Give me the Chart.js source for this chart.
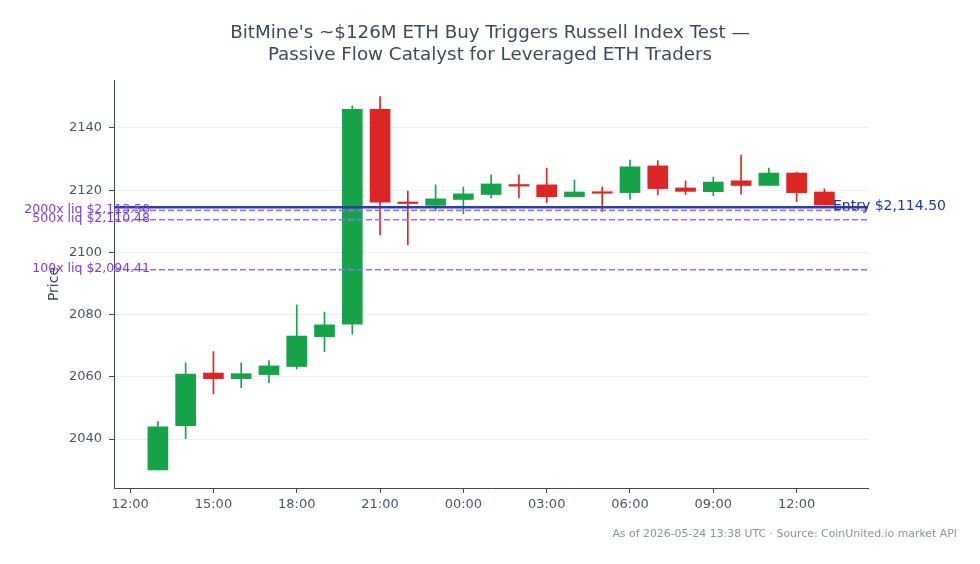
<!DOCTYPE html>
<html><head><meta charset="utf-8">
<script src="https://cdn.jsdelivr.net/npm/chart.js@4.4.1/dist/chart.umd.min.js"></script>
<style>html,body{margin:0;padding:0;background:#fff}#wrap{width:980px;height:564px;position:relative}</style>
</head><body><div id="wrap"><canvas id="c" width="980" height="564"></canvas></div>
<script>
// Hours since 12:00 on day 1 (candle centres)
const HOURS = [1,2,3,4,5,6,7,8,9,10,11,12,13,14,15,16,17,18,19,20,21,22,23,24,25];
const OPEN  = [2030.1,2044.3,2061.2,2059.4,2060.7,2063.3,2072.9,2076.9,2146.0,2116.1,2115.1,2117.0,2118.6,2121.8,2121.7,2117.9,2119.3,2119.2,2127.8,2120.7,2119.5,2123.0,2121.5,2125.5,2119.4];
const HIGH  = [2045.6,2064.5,2068.1,2064.5,2065.2,2083.1,2080.8,2147.1,2150.1,2119.7,2121.7,2121.0,2124.9,2124.9,2127.1,2123.3,2121.0,2129.7,2129.5,2123.0,2124.2,2131.3,2127.1,2125.8,2120.4];
const LOW   = [2030.1,2040.1,2054.5,2056.5,2058.1,2062.5,2068.1,2073.7,2105.6,2102.4,2113.4,2112.4,2117.5,2117.5,2116.0,2117.9,2113.1,2117.0,2118.5,2118.6,2118.2,2118.7,2121.5,2116.3,2115.2];
const CLOSE = [2043.9,2060.9,2059.4,2061.0,2063.5,2073.1,2076.7,2146.0,2116.1,2115.7,2117.2,2118.8,2122.0,2121.3,2117.9,2119.4,2119.0,2127.5,2120.5,2119.6,2122.6,2121.5,2125.5,2119.2,2115.2];

const ENTRY = 2114.50;
const LIQ_LEVELS = [2113.50, 2110.48, 2094.41];
const LIQ_LABELS = ['2000x liq $2,113.50', '500x liq $2,110.48', '100x liq $2,094.41'];
const ENTRY_LABEL = 'Entry $2,114.50';

const X_TICKS = [0,3,6,9,12,15,18,21,24];
const X_TICK_LABELS = ['12:00','15:00','18:00','21:00','00:00','03:00','06:00','09:00','12:00'];
const Y_TICKS = [2040,2060,2080,2100,2120,2140];

const X_MIN = -0.58, X_MAX = 26.57;
const Y_MIN = 2024.25, Y_MAX = 2155.4;

const TITLE = ["BitMine's ~$126M ETH Buy Triggers Russell Index Test \u2014", "Passive Flow Catalyst for Leveraged ETH Traders"];
const FOOTER = 'As of 2026-05-24 13:38 UTC \u00b7 Source: CoinUnited.io market API';

const GREEN = '#16a34a', RED = '#dc2626';
const colors = OPEN.map((o,i)=> CLOSE[i] >= o ? GREEN : RED);
const FONT = "'DejaVu Sans', sans-serif";

const bodies = HOURS.map((h,i)=>({x:h, y:[OPEN[i], CLOSE[i]]}));
const wicks = HOURS.map((h,i)=>({x:h, y:[LOW[i], HIGH[i]]}));

const datasets = [
  {type:'line', data:[{x:X_MIN,y:ENTRY},{x:X_MAX,y:ENTRY}], borderColor:'#2a3ea6', borderWidth:2.5, pointRadius:0, order:0},
  ...LIQ_LEVELS.map(l=>({type:'line', data:[{x:X_MIN,y:l},{x:X_MAX,y:l}], borderColor:'#9b70f0', borderWidth:1.6, borderDash:[6,3], pointRadius:0, order:0})),
  {type:'bar', data:bodies, backgroundColor:colors, borderWidth:0, barThickness:20, minBarLength:1.5, grouped:false, order:1},
  {type:'bar', data:wicks, backgroundColor:colors, borderWidth:0, barThickness:1, grouped:false, order:2}
];

const overlay = {
  id:'overlay',
  afterDatasetsDraw(chart){
    const {ctx, chartArea, scales:{y}} = chart;
    ctx.save();
    ctx.font = '12.5px ' + FONT;
    ctx.fillStyle = '#7c3aed';
    ctx.textAlign = 'right';
    ctx.textBaseline = 'middle';
    LIQ_LEVELS.forEach((l,i)=>{
      ctx.fillText(LIQ_LABELS[i], chartArea.left + 36, y.getPixelForValue(l) - 1);
    });
    ctx.font = '14px ' + FONT;
    ctx.fillStyle = '#1e3a9e';
    ctx.textAlign = 'left';
    ctx.fillText(ENTRY_LABEL, chartArea.right - 35, y.getPixelForValue(ENTRY) - 1);
    ctx.font = '10.9px ' + FONT;
    ctx.fillStyle = '#8a94a0';
    ctx.textAlign = 'right';
    ctx.fillText(FOOTER, 957, 534);
    ctx.restore();
  }
};

new Chart(document.getElementById('c'), {
  type:'bar',
  data:{datasets},
  options:{
    responsive:false, animation:false, devicePixelRatio:1,
    layout:{padding:{left:0,right:0,top:0,bottom:0}},
    plugins:{
      legend:{display:false}, tooltip:{enabled:false},
      title:{display:true, text:TITLE, color:'#3d4a5c', font:{family:FONT, size:18.3, weight:'normal', lineHeight:1.17}, padding:{top:23,bottom:14.2}}
    },
    scales:{
      x:{type:'linear', min:X_MIN, max:X_MAX, offset:false,
        afterBuildTicks:s=>{s.ticks = X_TICKS.map(v=>({value:v}));},
        afterFit:s=>{s.height = 76;},
        ticks:{callback:(v,i)=>X_TICK_LABELS[i], color:'#4a5568', font:{family:FONT,size:13}, padding:4, maxRotation:0, autoSkip:false},
        grid:{drawOnChartArea:false, tickLength:5, tickColor:'#3d4a5c', offset:false},
        border:{color:'#3d4a5c', width:1}
      },
      y:{type:'linear', min:Y_MIN, max:Y_MAX,
        afterBuildTicks:s=>{s.ticks = Y_TICKS.map(v=>({value:v}));},
        afterFit:s=>{s.width = 114;},
        ticks:{callback:v=>String(v), color:'#4a5568', font:{family:FONT,size:13}, padding:7},
        grid:{color:'#eceff3', tickLength:5, tickColor:'#3d4a5c'},
        border:{color:'#3d4a5c', width:1},
        title:{display:true, text:'Price', color:'#3d4a5c', font:{family:FONT,size:14}, padding:{top:46,bottom:0}}
      },
      yRight:{type:'linear', position:'right', min:Y_MIN, max:Y_MAX,
        afterFit:s=>{s.width = 112;},
        ticks:{display:false},
        grid:{display:false, drawTicks:false},
        border:{display:false}
      }
    }
  },
  plugins:[overlay]
});
</script>
</body></html>
